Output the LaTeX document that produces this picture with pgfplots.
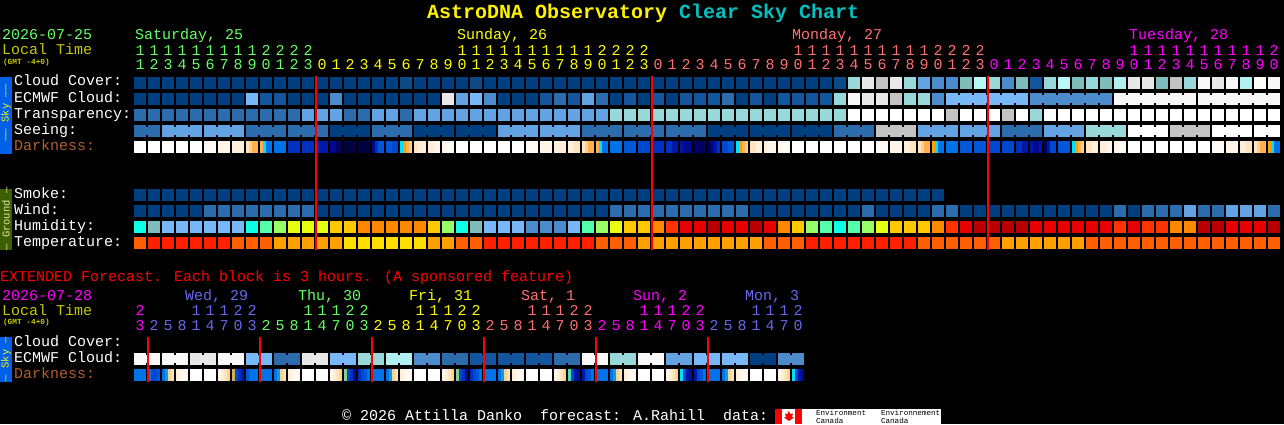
\documentclass[border=0pt]{standalone}
\usepackage{fontspec}
\setmainfont{Liberation Mono}
\usepackage{pgfplots}
\usepackage{pgfplotstable}
\pgfplotsset{compat=1.18}
\pgfplotsset{table/x index=0,table/y index=0}
\pgfdeclareplotmark{cellbox}{\pgfpathrectangle{\pgfqpoint{-6pt}{-6pt}}{\pgfqpoint{12pt}{12pt}}\pgfusepathqfill}
\pgfdeclareplotmark{mainbar}{\pgfpathrectangle{\pgfqpoint{-1pt}{-87pt}}{\pgfqpoint{2pt}{174pt}}\pgfusepathqfill}
\pgfdeclareplotmark{extbar}{\pgfpathrectangle{\pgfqpoint{-1pt}{-22.5pt}}{\pgfqpoint{2pt}{45pt}}\pgfusepathqfill}
\definecolor{dayg}{RGB}{102,255,102}
\definecolor{dayy}{RGB}{255,255,0}
\definecolor{dayr}{RGB}{255,112,112}
\definecolor{daym}{RGB}{255,0,255}
\definecolor{dayb}{RGB}{104,104,240}
\definecolor{loc}{RGB}{200,200,0}
\definecolor{dark}{RGB}{176,96,44}
\definecolor{skyb}{RGB}{0,96,232}
\definecolor{grnd}{RGB}{60,96,0}
\definecolor{teal}{RGB}{0,192,192}
\pgfplotstableread[row sep=\\]{v\\0\\0\\0\\0\\0\\0\\0\\0\\0\\0\\0\\0\\0\\0\\0\\0\\0\\0\\0\\47\\0\\0\\0\\0\\47\\0\\0\\0\\0\\0\\0\\0\\0\\0\\0\\0\\0\\0\\0\\0\\0\\0\\0\\0\\0\\0\\0\\0\\0\\0\\47\\7\\10\\9\\10\\7\\4\\3\\3\\6\\48\\7\\3\\6\\1\\7\\48\\6\\7\\6\\8\\10\\10\\6\\9\\7\\11\\10\\11\\8\\12\\11\\}\cloud
\pgfplotstableread[row sep=\\]{v\\0\\0\\0\\0\\0\\0\\0\\0\\5\\1\\1\\0\\0\\0\\3\\0\\0\\0\\0\\0\\0\\0\\10\\4\\5\\3\\0\\0\\0\\1\\2\\1\\4\\2\\0\\1\\0\\1\\0\\1\\1\\1\\2\\0\\1\\0\\1\\1\\1\\1\\7\\11\\10\\10\\9\\7\\7\\3\\5\\5\\5\\5\\5\\5\\3\\3\\3\\3\\3\\3\\11\\11\\11\\11\\11\\11\\11\\11\\11\\11\\11\\11\\}\ecmwf
\pgfplotstableread[row sep=\\]{v\\2\\2\\2\\2\\2\\2\\2\\2\\2\\2\\2\\2\\4\\4\\4\\2\\2\\4\\4\\2\\4\\4\\4\\4\\4\\4\\4\\4\\4\\4\\4\\4\\4\\4\\7\\7\\7\\7\\7\\7\\7\\7\\7\\7\\7\\7\\7\\7\\7\\7\\7\\12\\12\\12\\12\\12\\12\\12\\9\\12\\12\\12\\9\\12\\7\\12\\12\\12\\12\\12\\12\\12\\12\\12\\12\\12\\12\\12\\12\\12\\12\\12\\}\transp
\pgfplotstableread[row sep=\\]{v\\2\\2\\4\\4\\4\\4\\4\\4\\2\\2\\2\\2\\2\\2\\0\\0\\0\\2\\2\\2\\0\\0\\0\\0\\0\\0\\4\\4\\4\\4\\4\\4\\2\\2\\2\\2\\2\\2\\2\\2\\2\\0\\0\\0\\0\\0\\0\\0\\0\\0\\2\\2\\2\\9\\9\\9\\4\\4\\4\\4\\4\\4\\2\\2\\2\\4\\4\\4\\7\\7\\7\\12\\12\\12\\9\\9\\9\\12\\12\\12\\12\\12\\}\seeing
\pgfplotstableread[row sep=\\]{v\\0\\0\\0\\0\\0\\0\\0\\0\\0\\0\\0\\0\\0\\0\\0\\0\\0\\0\\0\\0\\0\\0\\0\\0\\0\\0\\0\\0\\0\\0\\0\\0\\0\\0\\0\\0\\0\\0\\0\\0\\0\\0\\0\\0\\0\\0\\0\\0\\0\\0\\0\\0\\0\\0\\0\\0\\0\\0\\}\smoke
\pgfplotstableread[row sep=\\]{v\\0\\0\\0\\0\\0\\2\\2\\2\\2\\2\\2\\2\\2\\0\\0\\0\\0\\0\\0\\0\\0\\0\\0\\0\\0\\0\\0\\0\\0\\0\\0\\0\\0\\0\\2\\2\\2\\2\\2\\2\\2\\2\\2\\2\\0\\0\\0\\0\\0\\0\\0\\0\\2\\0\\0\\0\\0\\2\\2\\0\\0\\0\\0\\0\\0\\0\\0\\0\\0\\0\\2\\0\\2\\2\\2\\4\\2\\2\\4\\4\\4\\2\\}\wind
\pgfplotstableread[row sep=\\]{v\\13\\6\\5\\5\\5\\5\\5\\5\\13\\14\\15\\16\\16\\16\\17\\17\\18\\18\\18\\18\\18\\17\\15\\13\\6\\5\\5\\5\\3\\3\\3\\5\\14\\15\\16\\17\\17\\18\\19\\20\\20\\21\\20\\20\\21\\20\\18\\17\\15\\14\\13\\14\\15\\16\\17\\17\\17\\18\\19\\20\\21\\21\\21\\21\\20\\20\\20\\20\\20\\20\\19\\20\\19\\19\\18\\18\\21\\21\\20\\20\\20\\21\\}\humid
\pgfplotstableread[row sep=\\]{v\\22\\23\\23\\23\\23\\23\\23\\22\\22\\22\\24\\24\\24\\24\\24\\25\\25\\25\\25\\25\\25\\24\\24\\22\\22\\23\\23\\23\\23\\23\\23\\23\\23\\22\\22\\22\\24\\24\\24\\24\\24\\24\\24\\24\\24\\22\\22\\22\\23\\23\\23\\23\\23\\23\\23\\23\\22\\22\\22\\22\\22\\22\\24\\24\\24\\24\\24\\24\\22\\22\\22\\22\\22\\22\\22\\22\\22\\22\\22\\22\\22\\22\\}\temper
% connectors between merged blocks
\pgfplotstableread[row sep=\\]{c v\\0 2\\2 4\\3 4\\5 4\\6 4\\8 2\\9 2\\11 2\\12 2\\14 0\\15 0\\17 2\\18 2\\20 0\\21 0\\23 0\\24 0\\26 4\\27 4\\29 4\\30 4\\32 2\\33 2\\35 2\\36 2\\38 2\\39 2\\41 0\\42 0\\44 0\\45 0\\47 0\\48 0\\50 2\\51 2\\53 9\\54 9\\56 4\\57 4\\59 4\\60 4\\62 2\\63 2\\65 4\\66 4\\68 7\\69 7\\71 12\\72 12\\74 9\\75 9\\77 12\\78 12\\80 12\\}\seeconn
\pgfplotstableread[row sep=\\]{c v\\58 5\\59 5\\60 5\\61 5\\62 5\\64 3\\65 3\\66 3\\67 3\\68 3\\70 11\\71 11\\72 11\\73 11\\74 11\\76 11\\77 11\\78 11\\79 11\\80 11\\}\ecconn
% extended ECMWF, one value per 6-hour pair
\pgfplotstableread[row sep=\\]{v\\11\\11\\10\\11\\5\\2\\10\\5\\7\\8\\3\\2\\1\\1\\1\\2\\11\\7\\11\\4\\5\\5\\0\\3\\}\extec
% darkness, four slices per block
\pgfplotstableread[row sep=\\]{a b c d\\
12 12 12 12\\12 12 12 12\\12 12 12 12\\12 12 12 12\\12 12 12 12\\26 26 26 26\\27 27 27 27\\28 28 28 28\\29 30 31 31\\31 33 34 34\\
34 34 34 34\\37 37 37 37\\37 37 37 37\\37 38 38 38\\39 39 40 40\\41 41 41 41\\41 41 41 41\\39 37 35 35\\35 35 36 36\\33 32 31 30\\
29 28 28 28\\28 28 27 27\\27 26 26 26\\12 12 12 12\\12 12 12 12\\12 12 12 12\\12 12 12 12\\12 12 12 12\\26 26 26 26\\27 27 27 27\\
28 28 28 28\\28 28 29 29\\29 30 31 31\\31 33 34 34\\34 34 34 34\\35 35 35 35\\36 36 36 36\\37 37 37 37\\37 37 38 38\\38 39 39 39\\
40 40 40 40\\40 39 38 37\\36 36 35 35\\33 32 31 30\\29 29 28 28\\28 27 27 27\\27 26 26 26\\12 12 12 12\\12 12 12 12\\12 12 12 12\\
12 12 12 12\\12 12 12 12\\12 12 12 12\\26 26 26 26\\27 27 27 27\\28 28 29 29\\29 30 31 31\\32 33 34 34\\34 34 34 34\\35 35 35 35\\
35 35 35 35\\36 36 36 36\\36 36 36 36\\37 37 38 38\\38 39 39 38\\40 38 36 36\\35 35 35 35\\33 32 31 30\\29 29 28 28\\28 28 27 27\\
27 26 26 26\\12 12 12 12\\12 12 12 12\\12 12 12 12\\12 12 12 12\\12 12 12 12\\12 12 12 12\\26 26 26 26\\27 27 27 27\\28 28 29 29\\
29 30 31 31\\32 33 34 34\\}\darkmain
\pgfplotstableread[row sep=\\]{a b c d\\
34 34 34 34\\34 36 36 35\\34 45 30 29\\28 27 26 26\\12 12 12 12\\12 12 12 12\\27 28 29 30\\42 36 37 38\\
35 34 34 34\\34 34 34 34\\34 45 30 29\\28 27 26 26\\12 12 12 12\\12 12 12 12\\27 28 29 30\\43 36 37 46\\
37 36 35 34\\34 34 34 34\\34 45 30 29\\28 27 26 26\\12 12 12 12\\12 12 12 12\\27 28 29 30\\43 36 37 46\\
37 36 35 34\\34 34 34 34\\34 45 30 29\\28 27 26 26\\12 12 12 12\\12 12 12 12\\27 28 29 30\\44 36 38 46\\
38 36 35 34\\34 34 34 34\\34 45 30 29\\28 27 26 26\\12 12 12 12\\12 12 12 12\\27 28 29 30\\33 36 38 46\\
38 36 35 34\\34 34 34 34\\34 45 30 29\\28 27 26 26\\12 12 12 12\\12 12 12 12\\27 28 29 30\\33 36 38 39\\}\darkext
\pgfplotsset{
 cell/.style={only marks,scatter,point meta=explicit,mark=cellbox,
   scatter/use mapped color={draw=none,fill=mapped color}},
 conn/.style={cell,mark options={xscale=0.25,yscale=0.667}},
 slice/.style={cell,mark options={xscale=0.26}},
}
\newcommand\sz[1]{\fontsize{#1pt}{#1pt}\selectfont}
\begin{document}
\begin{tikzpicture}
\useasboundingbox (0,0) rectangle (1284pt,424pt);
\fill[black] (0,0) rectangle (1284pt,424pt);
\begin{axis}[at={(0,0)},anchor=south west,scale only axis,width=1284pt,height=424pt,
  xmin=0,xmax=1284,ymin=0,ymax=424,y dir=reverse,hide axis,
  point meta min=0,point meta max=48,
  colormap={csc}{rgb255=(0,63,127) rgb255=(19,86,158) rgb255=(44,108,172) rgb255=(76,140,204) rgb255=(99,163,227)
   rgb255=(120,184,248) rgb255=(127,189,189) rgb255=(153,216,216) rgb255=(176,240,240) rgb255=(195,195,195)
   rgb255=(232,232,232) rgb255=(248,248,248) rgb255=(255,255,255) rgb255=(15,255,230) rgb255=(85,255,170)
   rgb255=(153,255,102) rgb255=(232,255,17) rgb255=(255,200,0) rgb255=(255,136,0) rgb255=(255,51,0)
   rgb255=(232,0,0) rgb255=(184,0,0) rgb255=(255,95,0) rgb255=(255,32,0) rgb255=(255,159,0)
   rgb255=(255,222,0) rgb255=(255,250,243) rgb255=(255,245,232) rgb255=(255,238,220) rgb255=(255,228,192)
   rgb255=(255,208,144) rgb255=(255,176,80) rgb255=(255,160,0) rgb255=(0,224,255) rgb255=(0,115,230)
   rgb255=(0,88,216) rgb255=(0,72,208) rgb255=(0,48,192) rgb255=(0,24,168) rgb255=(0,8,144)
   rgb255=(0,0,96) rgb255=(0,0,64) rgb255=(208,176,80) rgb255=(128,208,144) rgb255=(80,224,176)
   rgb255=(0,160,240) rgb255=(0,15,144) rgb255=(12,74,136) rgb255=(184,248,248)},
]
\addplot[cell] table[x expr=140+14*\coordindex,y expr=83,meta=v] {\cloud};
\addplot[cell] table[x expr=140+14*\coordindex,y expr=99,meta=v] {\ecmwf};
\addplot[cell] table[x expr=140+14*\coordindex,y expr=115,meta=v] {\transp};
\addplot[cell] table[x expr=140+14*\coordindex,y expr=131,meta=v] {\seeing};
\addplot[conn] table[x expr=147+14*\thisrow{c},y expr=131,meta=v] {\seeconn};
\addplot[conn] table[x expr=147+14*\thisrow{c},y expr=99,meta=v] {\ecconn};
\addplot[slice] table[x expr=135.5+14*\coordindex,y expr=147,meta=a] {\darkmain};
\addplot[slice] table[x expr=138.5+14*\coordindex,y expr=147,meta=b] {\darkmain};
\addplot[slice] table[x expr=141.5+14*\coordindex,y expr=147,meta=c] {\darkmain};
\addplot[slice] table[x expr=144.5+14*\coordindex,y expr=147,meta=d] {\darkmain};
\addplot[cell] table[x expr=140+14*\coordindex,y expr=195,meta=v] {\smoke};
\addplot[cell] table[x expr=140+14*\coordindex,y expr=211,meta=v] {\wind};
\addplot[cell] table[x expr=140+14*\coordindex,y expr=227,meta=v] {\humid};
\addplot[cell] table[x expr=140+14*\coordindex,y expr=243,meta=v] {\temper};
\addplot[cell] table[x expr=140+28*\coordindex,y expr=359,meta=v] {\extec};
\addplot[cell] table[x expr=154+28*\coordindex,y expr=359,meta=v] {\extec};
\addplot[conn] table[x expr=147+28*\coordindex,y expr=359,meta=v] {\extec};
\addplot[slice] table[x expr=135.5+14*\coordindex,y expr=375,meta=a] {\darkext};
\addplot[slice] table[x expr=138.5+14*\coordindex,y expr=375,meta=b] {\darkext};
\addplot[slice] table[x expr=141.5+14*\coordindex,y expr=375,meta=c] {\darkext};
\addplot[slice] table[x expr=144.5+14*\coordindex,y expr=375,meta=d] {\darkext};
% now lines, as marks so that they stack over the blocks
\addplot[only marks,mark=mainbar,mark options={fill=red,draw=none}] coordinates {(316,163)(652,163)(988,163)};
\addplot[only marks,mark=extbar,mark options={fill=red,draw=none}] coordinates {(148,359.5)(260,359.5)(372,359.5)(484,359.5)(596,359.5)(708,359.5)};
\end{axis}
\begin{scope}[x=1pt,y=1pt]
\tikzset{lab/.style={anchor=base west,inner sep=0pt,outer sep=0pt,font=\sz{15}},
         dig/.style={anchor=base,inner sep=0pt,outer sep=0pt,font=\sz{15}}}
\newcommand\lab[4]{\node[lab,text=#3] at (#1,424-#2) {#4};}
% title
\node[lab,font=\sz{20}\bfseries,text=yellow] at (427,424-18.5) {AstroDNA Observatory};
\node[lab,font=\sz{20}\bfseries,text=teal] at (679,424-18.5) {Clear Sky Chart};
% header
\lab{2}{40}{dayg}{2026-07-25}
\lab{2}{55}{loc}{Local Time}
\node[lab,font=\sz{7.8}\bfseries,text=loc] at (3,424-64.5) {(GMT -4+0)};
\lab{135}{40}{dayg}{Saturday, 25}
\lab{457}{40}{dayy}{Sunday, 26}
\lab{792}{40}{dayr}{Monday, 27}
\lab{1129}{40}{daym}{Tuesday, 28}
\foreach \c in {0,...,81}{
  \pgfmathtruncatemacro\h{mod(\c+11,24)}
  \pgfmathtruncatemacro\u{mod(\h,10)}
  \pgfmathtruncatemacro\t{int(\h/10)}
  \ifnum\c<13 \def\col{dayg}\else\ifnum\c<37 \def\col{dayy}\else\ifnum\c<61 \def\col{dayr}\else\def\col{daym}\fi\fi\fi
  \node[dig,text=\col] at ({140+14*\c},424-70) {\u};
  \ifnum\h>9 \node[dig,text=\col] at ({140+14*\c},424-55.5) {\t};\fi
}
% row names
\lab{14}{86}{white}{Cloud Cover:}
\lab{14}{102}{white}{ECMWF Cloud:}
\lab{14}{118}{white}{Transparency:}
\lab{14}{134}{white}{Seeing:}
\lab{14}{150}{dark}{Darkness:}
\lab{14}{198}{white}{Smoke:}
\lab{14}{214}{white}{Wind:}
\lab{14}{230}{white}{Humidity:}
\lab{14}{246}{white}{Temperature:}
% side bars
\fill[skyb] (0,424-77) rectangle (12,424-153.5);
\node[rotate=90,inner sep=0pt,font=\sz{10.5},text=yellow] at (6,424-113) {—— Sky ——};
\fill[grnd] (0,424-189) rectangle (12,424-249.5);
\node[rotate=90,inner sep=0pt,font=\sz{10.5},text={rgb,255:red,220;green,230;blue,170}] at (6,424-219) {— Ground —};
\fill[skyb] (0,424-337) rectangle (12,424-381.5);
\node[rotate=90,inner sep=0pt,font=\sz{10.5},text=yellow] at (6,424-359) {— Sky —};
% extended
\lab{0}{281}{red}{EXTENDED Forecast. Each block is 3 hours. (A sponsored feature)}
\lab{2}{300}{daym}{2026-07-28}
\lab{2}{315}{loc}{Local Time}
\node[lab,font=\sz{7.8}\bfseries,text=loc] at (3,424-324.5) {(GMT -4+0)};
\lab{185}{300}{dayb}{Wed, 29}
\lab{298}{300}{dayg}{Thu, 30}
\lab{409}{300}{dayy}{Fri, 31}
\lab{521}{300}{dayr}{Sat, 1}
\lab{633}{300}{daym}{Sun, 2}
\lab{745}{300}{dayb}{Mon, 3}
\foreach \c in {0,...,47}{
  \pgfmathtruncatemacro\h{mod(23+3*\c,24)}
  \pgfmathtruncatemacro\u{mod(\h,10)}
  \pgfmathtruncatemacro\t{int(\h/10)}
  \ifnum\c<1 \def\col{daym}\else\ifnum\c<9 \def\col{dayb}\else\ifnum\c<17 \def\col{dayg}\else\ifnum\c<25 \def\col{dayy}\else\ifnum\c<33 \def\col{dayr}\else\ifnum\c<41 \def\col{daym}\else\def\col{dayb}\fi\fi\fi\fi\fi\fi
  \node[dig,text=\col] at ({140+14*\c},424-330) {\u};
  \ifnum\h>9 \node[dig,text=\col] at ({140+14*\c},424-315.5) {\t};\fi
}
\lab{14}{346}{white}{Cloud Cover:}
\lab{14}{362}{white}{ECMWF Cloud:}
\lab{14}{378}{dark}{Darkness:}
% footer
\lab{342}{420}{white}{© 2026 Attilla Danko\ \ forecast: A.Rahill\ \ data:}
\fill[white] (775,0) rectangle (941,424-409);
\fill[red] (775,0) rectangle (782,424-409);
\fill[red] (795,0) rectangle (802,424-409);
\fill[red] (788.5,424-411) -- (790.5,424-414) -- (793,424-413.5) -- (792,424-417) -- (794,424-417.5) -- (789,424-421) -- (784,424-417.5) -- (786,424-417) -- (785,424-413.5) -- (787.5,424-414) -- cycle;
\node[lab,font=\sz{7.6},text=black] at (816,424-415) {Environment};
\node[lab,font=\sz{7.6},text=black] at (816,424-423) {Canada};
\node[lab,font=\sz{7.6},text=black] at (881,424-415) {Environnement};
\node[lab,font=\sz{7.6},text=black] at (881,424-423) {Canada};
\end{scope}
\end{tikzpicture}
\end{document}
